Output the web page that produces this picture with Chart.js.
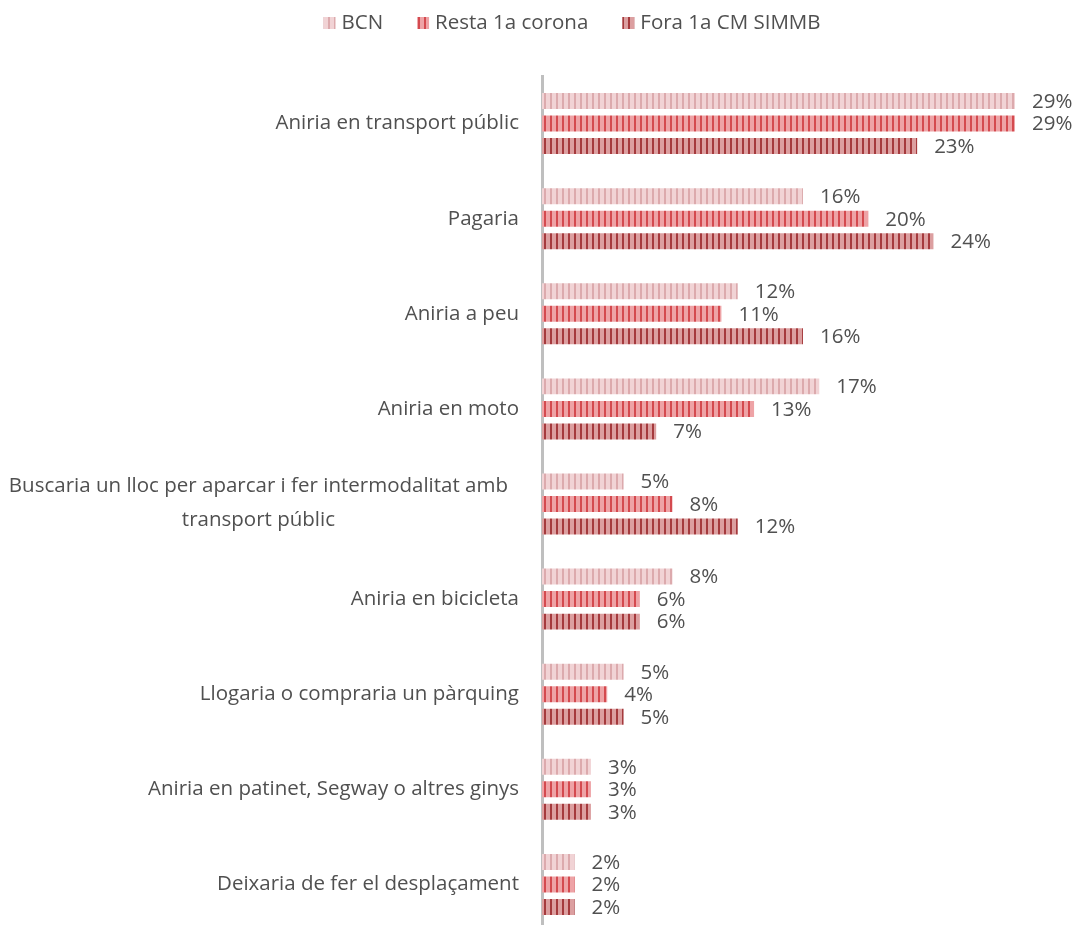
<!DOCTYPE html>
<html>
<head>
<meta charset="utf-8">
<script src="https://cdn.jsdelivr.net/npm/chart.js@4"></script>
<style>
  html, body { margin: 0; padding: 0; background: #fff; overflow: hidden; }
  #wrap { width: 1075px; height: 932px; }
</style>
</head>
<body>
<div id="wrap"><canvas id="chart" width="1075" height="932"></canvas></div>
<script>
// categories (second label split over two lines)
const categories = [
    "Aniria en transport públic",
    "Pagaria",
    "Aniria a peu",
    "Aniria en moto",
    ["Buscaria un lloc per aparcar i fer intermodalitat amb", "transport públic"],
    "Aniria en bicicleta",
    "Llogaria o compraria un pàrquing",
    "Aniria en patinet, Segway o altres ginys",
    "Deixaria de fer el desplaçament"
];

// percentages per zone
const bcn = [29, 16, 12, 17, 5, 8, 5, 3, 2];
const resta = [29, 20, 11, 13, 8, 6, 4, 3, 2];
const fora = [23, 24, 16, 7, 12, 6, 5, 3, 2];

const seriesNames = ["BCN", "Resta 1a corona", "Fora 1a CM SIMMB"];

const textColor = "#505050";
const font = "20.5px 'Open Sans', sans-serif";

// striped fill like the original
function stripes(bg, line) {
    const c = document.createElement("canvas");
    c.width = 6;
    c.height = 6;
    const g = c.getContext("2d");
    g.fillStyle = bg;
    g.fillRect(0, 0, 6, 6);
    g.fillStyle = line;
    g.fillRect(4, 0, 2, 6);
    return g.createPattern(c, "repeat");
}

const fills = [
    stripes("#f1d3d5", "#dcaaad"),
    stripes("#eea3a6", "#d44a4f"),
    stripes("#dc9fa0", "#a53a3d")
];

// value labels at the end of each bar
const valueLabels = {
    id: "valueLabels",
    afterDatasetsDraw(chart) {
        const ctx = chart.ctx;
        ctx.save();
        ctx.font = font;
        ctx.fillStyle = textColor;
        ctx.textAlign = "left";
        ctx.textBaseline = "middle";
        chart.data.datasets.forEach((ds, i) => {
            chart.getDatasetMeta(i).data.forEach((bar, j) => {
                ctx.fillText(ds.data[j] + "%", bar.x + 17, bar.y + 1);
            });
        });
        ctx.restore();
    }
};

// category labels, multi-line ones centred on their widest line
const categoryLabels = {
    id: "categoryLabels",
    afterDraw(chart) {
        const ctx = chart.ctx;
        const y = chart.scales.y;
        ctx.save();
        ctx.font = font;
        ctx.fillStyle = textColor;
        ctx.textBaseline = "middle";
        categories.forEach((lab, i) => {
            const cy = y.getPixelForValue(i);
            if (Array.isArray(lab)) {
                const w = Math.max(...lab.map(t => ctx.measureText(t).width));
                const cx = chart.chartArea.left - 34 - w / 2;
                const gap = 34;
                ctx.textAlign = "center";
                lab.forEach((t, k) => {
                    ctx.fillText(t, cx, cy - 1 + (k - (lab.length - 1) / 2) * gap);
                });
            } else {
                ctx.textAlign = "right";
                ctx.fillText(lab, chart.chartArea.left - 23, cy);
            }
        });
        ctx.restore();
    }
};

// legend on top
const topLegend = {
    id: "topLegend",
    afterDraw(chart) {
        const ctx = chart.ctx;
        ctx.save();
        ctx.font = font;
        ctx.textBaseline = "middle";
        ctx.textAlign = "left";
        const box = 12, boxGap = 6, itemGap = 34;
        const widths = seriesNames.map(t => box + boxGap + ctx.measureText(t).width);
        const total = widths.reduce((a, b) => a + b, 0) + itemGap * (widths.length - 1);
        let x = 572 - total / 2;
        const cy = 23;
        seriesNames.forEach((t, i) => {
            ctx.fillStyle = fills[i];
            ctx.fillRect(x, cy - box / 2, box, box);
            ctx.fillStyle = textColor;
            ctx.fillText(t, x + box + boxGap, cy);
            x += widths[i] + itemGap;
        });
        ctx.restore();
    }
};

new Chart(document.getElementById("chart").getContext("2d"), {
    type: "bar",
    data: {
        labels: categories,
        datasets: [
            { label: seriesNames[0], data: bcn, backgroundColor: fills[0] },
            { label: seriesNames[1], data: resta, backgroundColor: fills[1] },
            { label: seriesNames[2], data: fora, backgroundColor: fills[2] }
        ]
    },
    options: {
        indexAxis: "y",
        responsive: false,
        animation: false,
        devicePixelRatio: 1,
        categoryPercentage: 0.71,
        barPercentage: 0.71,
        layout: { padding: { top: 76, right: 60, bottom: 0, left: 0 } },
        plugins: {
            legend: { display: false },
            tooltip: { enabled: false }
        },
        scales: {
            x: {
                display: false,
                min: 0,
                max: 29
            },
            y: {
                ticks: { display: false },
                grid: { display: false, drawTicks: false },
                border: { color: "#bfbfbf", width: 3 },
                afterFit(scale) {
                    scale.width = 542;
                }
            }
        }
    },
    plugins: [valueLabels, categoryLabels, topLegend]
});
</script>
</body>
</html>
